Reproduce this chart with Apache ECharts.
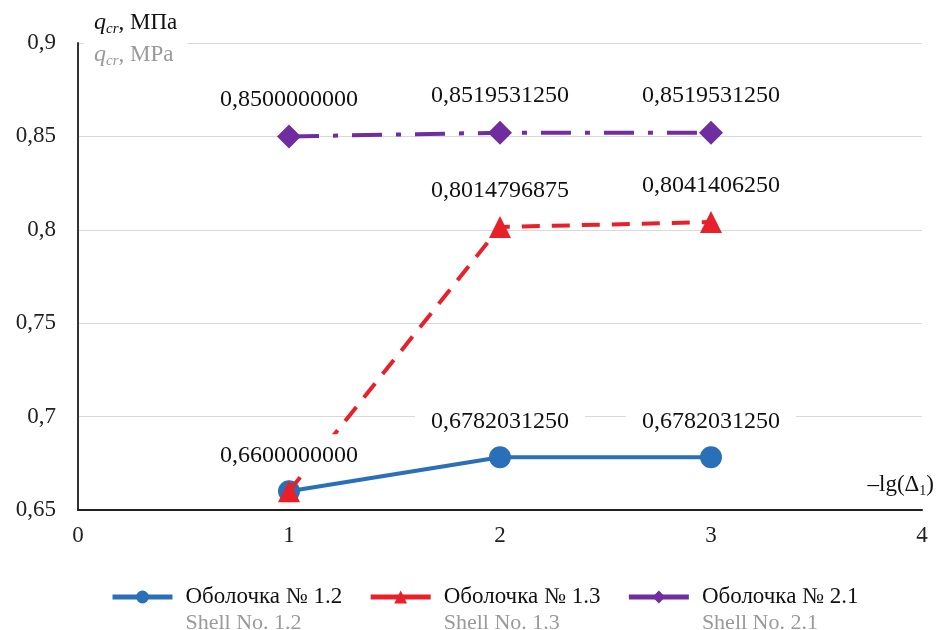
<!DOCTYPE html>
<html>
<head>
<meta charset="utf-8">
<script src="https://cdn.jsdelivr.net/npm/echarts@6/dist/echarts.min.js"></script>
<style>html,body{margin:0;padding:0;background:#fff}#c{width:936px;height:630px}</style>
</head>
<body>
<div id="c"></div>
<script>
var xValues = [1, 2, 3];
var shell12 = [0.66, 0.678203125, 0.678203125];
var shell13 = [0.66, 0.8014796875, 0.804140625];
var shell21 = [0.85, 0.851953125, 0.851953125];
var seriesNames = ['Оболочка № 1.2', 'Оболочка № 1.3', 'Оболочка № 2.1'];
var englishNames = ['Shell No. 1.2', 'Shell No. 1.3', 'Shell No. 2.1'];
var shell12LabelShown = [false, true, true];
var yTicks = [0.65, 0.7, 0.75, 0.8, 0.85, 0.9];
var xTicks = [0, 1, 2, 3, 4];

var FONT = '"Liberation Serif", "DejaVu Serif", serif';
function fmt(v) { return v.toFixed(10).replace('.', ','); }
function pairs(ys, shown) {
  return xValues.map(function (x, i) {
    var d = { value: [x, ys[i]] };
    if (shown && !shown[i]) d.label = { show: false };
    return d;
  });
}
var labelStyle = {
  show: true, position: 'top', distance: 6,
  formatter: function (p) { return fmt(p.value[1]); },
  fontFamily: FONT, fontSize: 24, color: '#111',
  backgroundColor: '#fff', padding: [9, 16, 7, 16]
};

var chart = echarts.init(document.getElementById('c'));
chart.setOption({
  animation: false,
  backgroundColor: '#fff',
  grid: { left: 78, right: 14, top: 43, bottom: 120, containLabel: false },
  xAxis: {
    type: 'value', min: xTicks[0], max: xTicks[xTicks.length - 1], interval: 1,
    axisLine: { show: true, lineStyle: { color: '#222', width: 2 } },
    axisTick: { show: false },
    splitLine: { show: false },
    axisLabel: { fontFamily: FONT, fontSize: 23, color: '#222', margin: 14 }
  },
  yAxis: {
    type: 'value', min: yTicks[0], max: yTicks[yTicks.length - 1], interval: 0.05,
    axisLine: { show: true, lineStyle: { color: '#333', width: 2 } },
    axisTick: { show: false },
    splitLine: { show: true, lineStyle: { color: '#d9d9d9', width: 1 } },
    axisLabel: {
      fontFamily: FONT, fontSize: 23, color: '#222', margin: 22,
      formatter: function (v) { return String(parseFloat(v.toFixed(2))).replace('.', ','); }
    }
  },
  legend: {
    top: 555, left: 105,
    itemWidth: 60, itemHeight: 16, itemGap: 26,
    data: seriesNames,
    lineStyle: { type: 'solid', width: 5 },
    formatter: function (name) {
      var i = seriesNames.indexOf(name);
      return '{e| }\n{a|' + name + '}\n{b|' + englishNames[i] + '}';
    },
    textStyle: {
      rich: {
        e: { fontFamily: FONT, fontSize: 22, lineHeight: 26, color: '#fff', padding: [0, 0, 0, 8] },
        a: { fontFamily: FONT, fontSize: 23, lineHeight: 26, color: '#111', padding: [0, 0, 0, 8] },
        b: { fontFamily: FONT, fontSize: 22, lineHeight: 26, color: '#9a9a9a', padding: [0, 0, 0, 8] }
      }
    }
  },
  series: [
    {
      name: seriesNames[0], type: 'line', data: pairs(shell12, shell12LabelShown),
      symbol: 'circle', symbolSize: 22,
      itemStyle: { color: '#2a70b8' },
      lineStyle: { color: '#2a70b8', width: 4 },
      label: labelStyle, z: 2
    },
    {
      name: seriesNames[1], type: 'line', data: pairs(shell13),
      symbol: 'triangle', symbolSize: 22,
      itemStyle: { color: '#e8202a' },
      lineStyle: { color: '#e8202a', width: 4, type: [18, 12] },
      label: labelStyle, z: 3
    },
    {
      name: seriesNames[2], type: 'line', data: pairs(shell21),
      symbol: 'diamond', symbolSize: [24, 24],
      itemStyle: { color: '#6f2da0' },
      lineStyle: { color: '#6f2da0', width: 4, type: [30, 14, 5, 14] },
      label: labelStyle, z: 4
    }
  ],
  graphic: [
    {
      type: 'text', left: 84, top: 5, z: 100,
      style: {
        text: '{q|q}{s|cr}{n|, МПа}\n{qg|q}{sg|cr}{ng|, MPa}',
        backgroundColor: '#fff', padding: [2, 10, 4, 10],
        rich: {
          q: { fontFamily: FONT, fontStyle: 'italic', fontSize: 24, lineHeight: 32, fill: '#111' },
          s: { fontFamily: FONT, fontStyle: 'italic', fontSize: 15, lineHeight: 32, padding: [12, 0, 0, 0], fill: '#111' },
          n: { fontFamily: FONT, fontSize: 23, lineHeight: 32, fill: '#111' },
          qg: { fontFamily: FONT, fontStyle: 'italic', fontSize: 24, lineHeight: 32, fill: '#9a9a9a' },
          sg: { fontFamily: FONT, fontStyle: 'italic', fontSize: 15, lineHeight: 32, padding: [12, 0, 0, 0], fill: '#9a9a9a' },
          ng: { fontFamily: FONT, fontSize: 23, lineHeight: 32, fill: '#9a9a9a' }
        }
      }
    },
    {
      type: 'text', right: 2, top: 472, z: 100,
      style: {
        text: '{n|–lg(Δ}{s|1}{n|)}',
        rich: {
          n: { fontFamily: FONT, fontSize: 23, lineHeight: 30, fill: '#111' },
          s: { fontFamily: FONT, fontSize: 14, lineHeight: 30, padding: [12, 0, 0, 0], fill: '#111' }
        }
      }
    }
  ]
});
</script>
</body>
</html>
